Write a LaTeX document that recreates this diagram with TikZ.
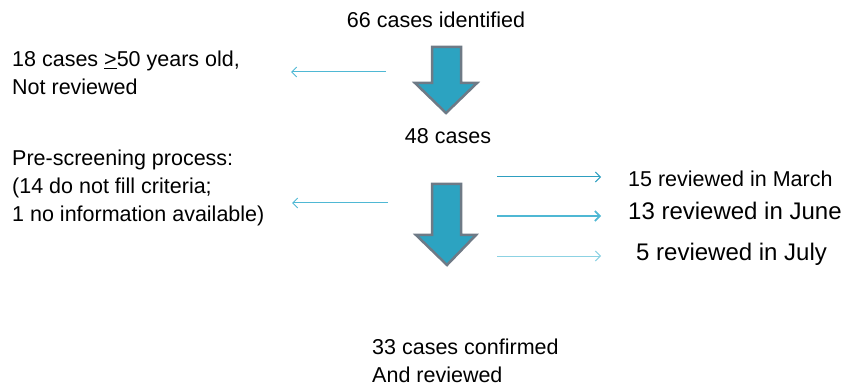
\documentclass[tikz,border=0pt]{standalone}
\usepackage{fontspec}
\setmainfont{Liberation Sans}
\usetikzlibrary{arrows.meta}
\definecolor{flowblue}{HTML}{2CA3C1}
\definecolor{flowgray}{HTML}{6E7A86}
\definecolor{thinblue}{HTML}{4FB8D4}
\definecolor{darkthin}{HTML}{2E9FC0}
\definecolor{paleblue}{HTML}{8CD2E3}
\newcommand{\fs}{\fontsize{21.5}{28}\selectfont}
\newcommand{\fb}{\fontsize{24}{28}\selectfont}

\begin{document}
\begin{tikzpicture}[x=1pt,y=-1pt,
   lbl/.style={inner sep=0pt,align=left,font=\fs},
   thin/.style={-{Straight Barb[length=5pt,width=10pt]},thinblue,line width=1pt},
   bigarrow/.style={draw=flowgray,fill=flowblue,line width=2.5pt,line join=miter}]
   \useasboundingbox (0,0) rectangle (845,387);
   % texts (base = baseline of the last line)
   \node[lbl,anchor=base] (ident) at (436,28) {66 cases identified};
   \node[lbl,anchor=base west] (old) at (12,95)
    {18 cases \underline{>}50 years old,\\Not reviewed};
   \node[lbl,anchor=base] (cases) at (448,144) {48 cases};
   \node[lbl,anchor=base west] (prescr) at (12,222)
    {Pre-screening process:\\(14 do not fill criteria;\\1 no information available)};
   \node[lbl,anchor=base west] (march) at (628,187) {15 reviewed in March};
   \node[lbl,anchor=base west,font=\fb] (june) at (628,220) {13 reviewed in June};
   \node[lbl,anchor=base west,font=\fb] (july) at (636,260) {5 reviewed in July};
   \node[lbl,anchor=base west] (confirm) at (372,382)
    {33 cases confirmed\\And reviewed};
   % big arrows
   \filldraw[bigarrow]
    (432,47) -- (461,47) -- (461,83) -- (477,83) -- (446,113) -- (415,83) -- (432,83) -- cycle;
   \filldraw[bigarrow]
    (432,184) -- (461,184) -- (461,235) -- (476,235) -- (447,265) -- (416,235) -- (432,235) -- cycle;
   % thin arrows
   \coordinate (old s) at (386,72);
   \coordinate (old e) at (291,72);
   \coordinate (pre s) at (388,203);
   \coordinate (pre e) at (292,203);
   \coordinate (mar s) at (497,177);
   \coordinate (mar e) at (601,177);
   \coordinate (jun s) at (497,216);
   \coordinate (jun e) at (601,216);
   \coordinate (jul s) at (497,256);
   \coordinate (jul e) at (601,256);
   \draw[thin] (old s) -- (old e);
   \draw[thin] (pre s) -- (pre e);
   \draw[thin,darkthin] (mar s) -- (mar e);
   \draw[thin,line width=1.6pt] (jun s) -- (jun e);
   \draw[thin,paleblue] (jul s) -- (jul e);
\end{tikzpicture}
\end{document}
